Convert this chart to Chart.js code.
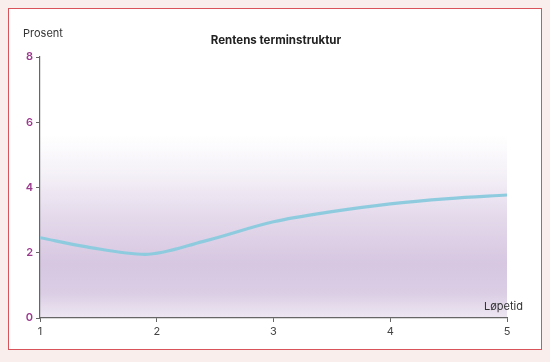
<!DOCTYPE html>
<html><head><meta charset="utf-8">
<script src="https://cdn.jsdelivr.net/npm/chart.js@4.4.1/dist/chart.umd.min.js"></script>
<style>
html,body{margin:0;padding:0;background:#f9eeec;width:550px;height:362px;overflow:hidden}
#box{position:absolute;left:8px;top:8px;width:532px;height:340px;border:1.5px solid #d9535b;background:#fff}
#wrap{position:absolute;left:0;top:0;width:550px;height:362px}
</style></head><body>
<div id="box"></div>
<div id="wrap"><canvas id="c" width="550" height="362"></canvas></div>
<script>
const maturities = [1, 1.4, 1.9, 2.4, 3, 3.5, 4, 4.5, 5];
const rates = [2.46, 2.18, 1.95, 2.35, 2.95, 3.26, 3.5, 3.66, 3.77];
const yTicks = [0, 2, 4, 6, 8];
const xTicks = [1, 2, 3, 4, 5];
const titleText = "Rentens terminstruktur";
const yLabel = "Prosent";
const xLabel = "Løpetid";

const FONT = "Inter, 'Open Sans', sans-serif";

const bgPlugin = {
  id: 'bg',
  beforeDraw(chart) {
    const {ctx, chartArea: a, scales: {y}} = chart;
    const top = y.getPixelForValue(5.6);
    const g = ctx.createLinearGradient(0, top, 0, a.bottom);
    g.addColorStop(0, 'rgba(255,255,255,1)');
    g.addColorStop(0.22, '#f4f0f7');
    g.addColorStop(0.45, '#e4d9eb');
    g.addColorStop(0.7, '#d7c7e1');
    g.addColorStop(0.86, '#dacde4');
    g.addColorStop(1, '#eee7f2');
    ctx.save();
    ctx.fillStyle = g;
    ctx.fillRect(a.left, top, a.right - a.left, a.bottom - top);
    ctx.restore();
  },
  afterDraw(chart) {
    const {ctx, chartArea: a} = chart;
    ctx.save();
    ctx.fillStyle = '#222';
    ctx.font = "bold 11.5px " + FONT;
    ctx.textAlign = 'center';
    ctx.textBaseline = 'middle';
    ctx.fillText(titleText, 276, 41);
    ctx.fillStyle = '#333';
    ctx.font = "11px " + FONT;
    ctx.textAlign = 'left';
    ctx.fillText(yLabel, 23, 34);
    ctx.textAlign = 'right';
    ctx.fillText(xLabel, a.right + 16, 307);
    ctx.restore();
  }
};

new Chart(document.getElementById('c'), {
  type: 'line',
  data: {
    datasets: [{
      data: maturities.map((m, i) => ({x: m, y: rates[i]})),
      borderColor: '#8fcbdf',
      borderWidth: 3.2,
      pointRadius: 0,
      cubicInterpolationMode: 'monotone',
      fill: false
    }]
  },
  options: {
    responsive: false,
    animation: false,
    layout: {padding: {top: 57, right: 43, left: 0, bottom: 0}},
    plugins: {legend: {display: false}, title: {display: false}, tooltip: {enabled: false}},
    scales: {
      x: {
        type: 'linear', min: 1, max: 5,
        afterBuildTicks(s) { s.ticks = xTicks.map(v => ({value: v})); },
        afterFit(s) { s.height = 44; },
        grid: {drawOnChartArea: false, drawTicks: true, tickLength: 4, color: '#666'},
        border: {color: '#666', width: 1.2},
        ticks: {color: '#444', font: {family: FONT, size: 11}, padding: 3, autoSkip: false, maxRotation: 0}
      },
      y: {
        min: 0, max: 8,
        afterBuildTicks(s) { s.ticks = yTicks.map(v => ({value: v})); },
        afterFit(s) { s.width = 40; },
        grid: {drawOnChartArea: false, drawTicks: true, tickLength: 4, color: '#666'},
        border: {color: '#666', width: 1.2},
        ticks: {color: '#9b3b8e', font: {family: FONT, size: 11, weight: '600'}, padding: 3}
      }
    }
  },
  plugins: [bgPlugin]
});
</script>
</body></html>
